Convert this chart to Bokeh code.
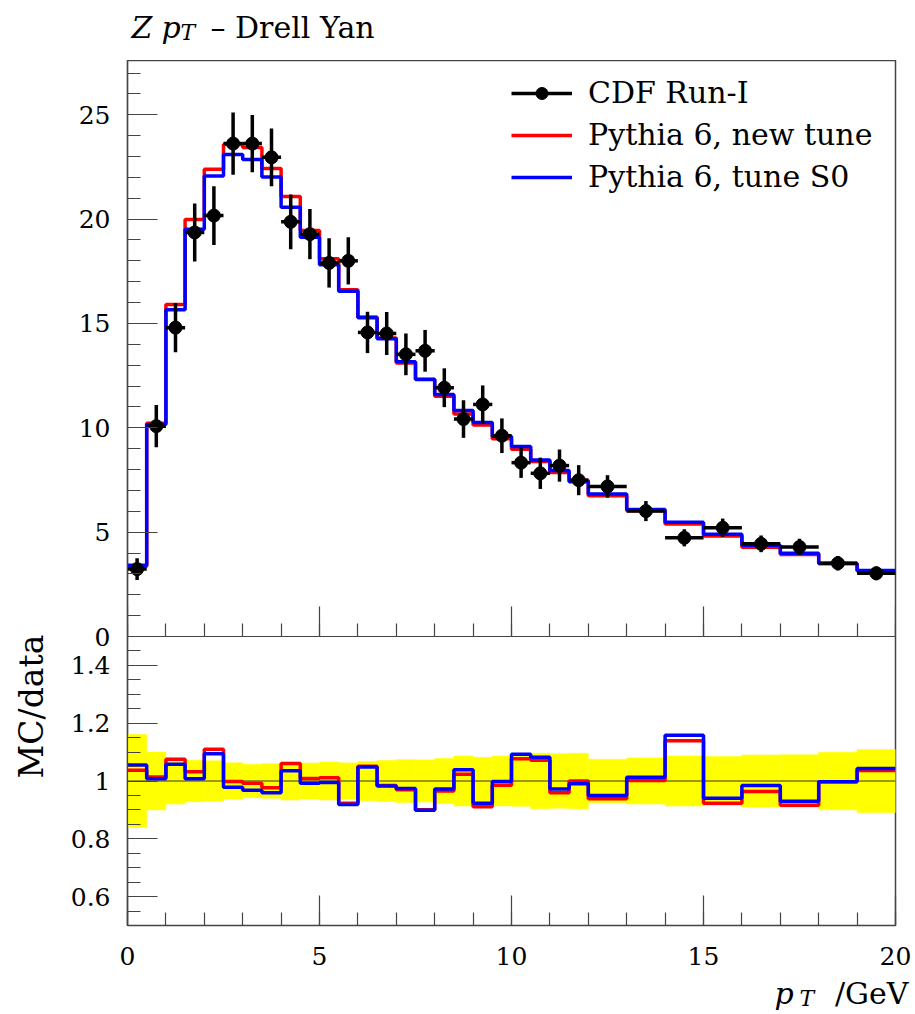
import numpy as np
from bokeh.plotting import figure
from bokeh.layouts import column, row
from bokeh.models import (Range1d, FixedTicker, Legend, LegendItem, LinearAxis,
                          ColumnDataSource)
from bokeh.core.properties import value
from bokeh.embed import file_html
from bokeh.resources import INLINE

# ---------------- data ----------------
bin_edges = [0.0, 0.5, 1.0, 1.5, 2.0, 2.5, 3.0, 3.5, 4.0, 4.5, 5.0, 5.5, 6.0,
             6.5, 7.0, 7.5, 8.0, 8.5, 9.0, 9.5, 10.0, 10.5, 11.0, 11.5, 12.0,
             13.0, 14.0, 15.0, 16.0, 17.0, 18.0, 19.0, 20.0]

cdf_y = [3.23, 10.08, 14.80, 19.36, 20.17, 23.62, 23.62, 22.96, 19.87, 19.28,
         17.90, 18.00, 14.57, 14.52, 13.52, 13.69, 11.92, 10.42, 11.12, 9.62,
         8.33, 7.82, 8.19, 7.49, 7.19, 6.01, 4.73, 5.21, 4.44, 4.29, 3.51, 3.03]

cdf_err = [0.52, 1.01, 1.18, 1.39, 1.41, 1.49, 1.37, 1.38, 1.31, 1.20, 1.18,
           1.13, 0.99, 1.03, 1.00, 1.00, 0.93, 0.90, 0.91, 0.83, 0.73, 0.75,
           0.77, 0.72, 0.54, 0.48, 0.41, 0.44, 0.40, 0.39, 0.35, 0.33]

py6_new = [3.35, 10.22, 15.91, 19.98, 22.39, 23.57, 23.43, 22.43, 21.08, 19.45,
           18.10, 16.61, 15.31, 14.30, 13.11, 12.33, 11.51, 10.66, 10.13, 9.48,
           8.97, 8.38, 7.86, 7.49, 6.75, 6.02, 5.39, 4.81, 4.28, 3.93, 3.50, 3.14]

py6_s0 = [3.41, 10.16, 15.66, 19.51, 22.07, 23.10, 22.86, 22.02, 20.57, 19.13,
          17.81, 16.54, 15.27, 14.27, 13.17, 12.31, 11.59, 10.83, 10.26, 9.60,
          9.10, 8.46, 7.96, 7.42, 6.83, 6.09, 5.48, 4.90, 4.37, 3.99, 3.50, 3.16]

labels = ["CDF Run-I", "Pythia 6, new tune", "Pythia 6, tune S0"]
x_major = [0, 5, 10, 15, 20]
y_major = [0, 5, 10, 15, 20, 25]
r_major = [0.6, 0.8, 1.0, 1.2, 1.4]

# ---------------- derived ----------------
edges = np.array(bin_edges)
lo, hi = edges[:-1], edges[1:]
xc = 0.5 * (lo + hi)
y = np.array(cdf_y)
e = np.array(cdf_err)
new = np.array(py6_new)
s0 = np.array(py6_s0)
rel = e / y
r_new = new / y
r_s0 = s0 / y

FONT = "DejaVu Serif"
AX = "#444444"

# panel geometry (pixels): main panel 576 px, ratio panel 289 px
H_MAIN, H_RATIO = 576, 289
Y_TOP = 27.6
R_LO, R_HI = 0.5, 1.5
K = (H_RATIO / (R_HI - R_LO)) / (H_MAIN / Y_TOP)   # ratio unit -> main unit


def ratio_to_main(v):
    return float((v - R_HI) * K)


F = figure(width=865, height=H_MAIN + H_RATIO + 45,
           x_range=Range1d(0, 20),
           y_range=Range1d(-Y_TOP * H_RATIO / H_MAIN, Y_TOP),
           output_backend="svg", toolbar_location=None,
           min_border_left=77, min_border_right=20, min_border_top=0,
           min_border_bottom=45)
F.extra_y_ranges = {"ratio": Range1d(R_LO, R_HI + (R_HI - R_LO) * H_MAIN / H_RATIO)}
F.grid.visible = False
F.outline_line_color = AX
F.outline_line_width = 1.5

mid_axis = LinearAxis(fixed_location=0)
F.add_layout(mid_axis, "below")

for ax in list(F.xaxis) + list(F.yaxis):
    ax.axis_line_color = AX
    ax.axis_line_width = 1.2
    ax.major_tick_line_color = AX
    ax.minor_tick_line_color = AX
    ax.major_tick_line_width = 1.2
    ax.minor_tick_line_width = 1.2
    ax.major_tick_in = 30
    ax.major_tick_out = 0
    ax.minor_tick_in = 13
    ax.minor_tick_out = 0
    ax.major_label_text_font = FONT
    ax.major_label_text_font_size = "25px"
    ax.major_label_text_color = "black"

# one left axis serving both panels (ratio ticks placed at their panel position)
r_minor = [round(0.5 + 0.05 * i, 2) for i in range(21)]
left_major = [float(v) for v in y_major] + [ratio_to_main(v) for v in r_major]
left_minor = [float(v) for v in range(0, 28)] + [ratio_to_main(v) for v in r_minor]
overrides = {float(v): str(v) for v in y_major}
overrides.update({ratio_to_main(v): "%g" % v for v in r_major})
main_y = F.yaxis[0]
main_y.ticker = FixedTicker(ticks=left_major, minor_ticks=left_minor)
main_y.major_label_overrides = overrides
main_y.major_label_standoff = 17

bottom_x = F.xaxis[0]
bottom_x.ticker = FixedTicker(ticks=x_major, minor_ticks=list(range(0, 21)))
bottom_x.major_label_standoff = 21

mid_axis.ticker = FixedTicker(ticks=x_major, minor_ticks=list(range(0, 21)))
mid_axis.major_label_text_color = None
mid_axis.major_label_standoff = 0

# ---- ratio panel glyphs ----
F.quad(left=lo, right=hi, bottom=1 - rel, top=1 + rel, y_range_name="ratio",
       fill_color="#ffff00", line_color="#ffff00", line_width=0.5)
F.line(x=[0, 20], y=[1, 1], y_range_name="ratio", line_color="#333333", line_width=1.2)
F.step(x=bin_edges, y=list(r_new) + [r_new[-1]], mode="after", y_range_name="ratio",
       line_color="#ff0000", line_width=3.5)
F.step(x=bin_edges, y=list(r_s0) + [r_s0[-1]], mode="after", y_range_name="ratio",
       line_color="#0000ff", line_width=3.5)

# ---- main panel glyphs ----
l_new = F.step(x=bin_edges, y=list(new) + [new[-1]], mode="after",
               line_color="#ff0000", line_width=3.5)
l_s0 = F.step(x=bin_edges, y=list(s0) + [s0[-1]], mode="after",
              line_color="#0000ff", line_width=3.5)

src = ColumnDataSource(dict(x=xc, y=y, lo=lo, hi=hi, ylo=y - e, yhi=y + e))
hseg = F.segment(x0="lo", y0="y", x1="hi", y1="y", source=src,
                 line_color="black", line_width=3.5)
F.segment(x0="x", y0="ylo", x1="x", y1="yhi", source=src,
          line_color="black", line_width=3.5)
dots = F.scatter(x="x", y="y", source=src, size=13, color="black")

legend = Legend(items=[LegendItem(label=labels[0], renderers=[hseg, dots]),
                       LegendItem(label=labels[1], renderers=[l_new]),
                       LegendItem(label=labels[2], renderers=[l_s0])],
                location=(384, 731), padding=0, margin=0, spacing=7,
                glyph_width=61, glyph_height=30, label_height=30,
                label_standoff=16, label_text_font=FONT,
                label_text_font_size="30px", label_text_color="black",
                border_line_alpha=0, background_fill_alpha=0)
F.add_layout(legend)


# ---------------- text strips (coordinates = page pixels) ----------------
def text_fig(x0, x1, y0, y1, bottom=0):
    f = figure(frame_width=x1 - x0, frame_height=y1 - y0,
               x_range=Range1d(x0, x1), y_range=Range1d(y1, y0),
               x_axis_location=None, y_axis_location=None, title=None,
               output_backend="svg", toolbar_location=None,
               min_border_left=0, min_border_right=0,
               min_border_top=0, min_border_bottom=bottom)
    f.grid.visible = False
    f.outline_line_color = None
    return f


def put(f, x, y_base, text, size_px, style="normal", align="left"):
    # y_base is the wanted alphabetic baseline; the glyph is anchored at its middle
    f.text(x=[x], y=[y_base - 0.347 * size_px], text=[text], text_font=value(FONT),
           text_font_size=value(f"{size_px}px"), text_font_style=style,
           text_align=align, text_baseline="middle", text_color="black")


T = text_fig(0, 915, 0, 60)
put(T, 131, 37, "Z", 30, "italic")
put(T, 161, 37, "p", 30, "italic")
put(T, 180, 40, "T", 22, "italic")
put(T, 210, 37, "– Drell Yan", 30)

XL = text_fig(0, 915, 970, 1014)
put(XL, 774, 1003, "p", 30, "italic")
put(XL, 799, 1006, "T", 22, "italic")
put(XL, 908, 1003, "/GeV", 30, align="right")

YL = text_fig(0, 50, 60, 925, bottom=45)
YL.text(x=[31], y=[706], text=["MC/data"], text_font=value(FONT),
        text_font_size=value("33px"), text_align="center", text_baseline="middle",
        angle=np.pi / 2, text_color="black")

layout = column(T, row(YL, F, spacing=0), XL, spacing=0)
open("out.html", "w").write(file_html(layout, INLINE))
